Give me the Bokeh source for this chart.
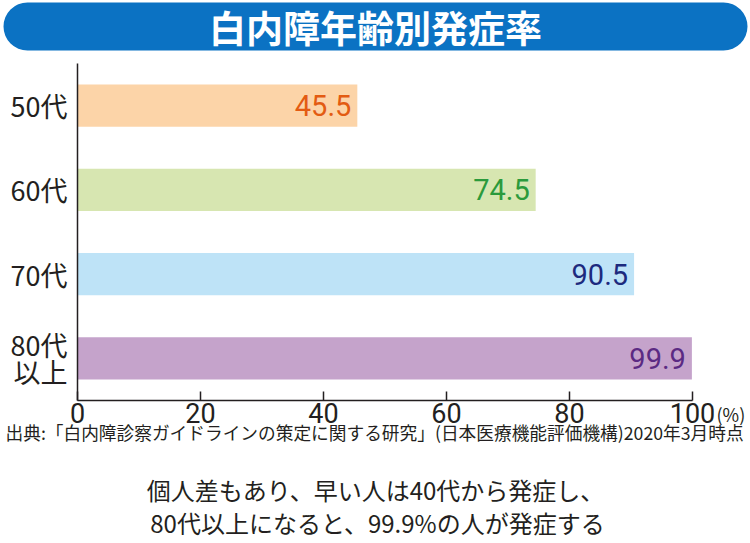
from bokeh.plotting import figure
from bokeh.models import ColumnDataSource, Range1d, FixedTicker, LinearAxis, Title
from bokeh.layouts import column
from bokeh.embed import file_html
from bokeh.resources import INLINE
from bokeh.core.properties import value

# ---- data ----
title_text = "白内障年齢別発症率"
categories = ["50代", "60代", "70代", "80代\n以上"]
rates = [45.5, 74.5, 90.5, 99.9]
bar_colors = ["#fcd4a8", "#d7e6b1", "#bee3f7", "#c5a3cb"]
value_colors = ["#e35b12", "#2b9a3c", "#1c2a7e", "#5b2a83"]
x_ticks = [0, 20, 40, 60, 80, 100]
unit_text = "(%)"
source_text = "出典:「白内障診察ガイドラインの策定に関する研究」(日本医療機能評価機構)2020年3月時点"
note_lines = ["個人差もあり、早い人は40代から発症し、", "80代以上になると、99.9%の人が発症する"]

JP = "Noto Sans CJK JP"
NUM = "Roboto"
INK = "#231f20"
W = 750

# category slots: first category at the top
n = len(categories)
ypos = [n - 0.5 - i for i in range(n)]

# ---- title bar ----
TH = 52
tp = figure(width=W, height=TH, x_range=Range1d(0, W), y_range=Range1d(TH, 0),
            x_axis_type=None, y_axis_type=None, toolbar_location=None,
            output_backend="svg", min_border=0, frame_align=False)
tp.outline_line_color = None
tp.quad(left=[3], right=[W - 3], top=[2], bottom=[50], fill_color="#0b72c3",
        line_color=None, border_radius=24)
tp.text(x=[W / 2], y=[26], text=[title_text], text_font=value(JP),
        text_font_style="bold", text_font_size="37px", text_color="white",
        text_align="center", text_baseline="middle")

# ---- main chart ----
src = ColumnDataSource(dict(y=ypos, rate=rates,
                            label=[f"{r:.1f}" for r in rates],
                            bar=bar_colors, vc=value_colors))

p = figure(width=W, height=413, y_range=Range1d(0, n), x_range=Range1d(0, 100),
           toolbar_location=None, output_backend="svg",
           min_border_left=77, min_border_right=58, min_border_top=11,
           min_border_bottom=65, frame_align=False)
p.outline_line_color = None
p.grid.grid_line_color = None

p.hbar(y="y", left=0, right="rate", height=0.5, fill_color="bar",
       line_color=None, source=src)
p.text(x="rate", y="y", text="label", x_offset=-6, text_align="right",
       text_baseline="middle", text_color="vc", text_font=value(NUM),
       text_font_size="29px", source=src)

xa = p.xaxis[0]
xa.ticker = FixedTicker(ticks=x_ticks)
xa.minor_tick_line_color = None
xa.major_tick_in = 9
xa.major_tick_out = 0
xa.major_tick_line_color = INK
xa.major_tick_line_width = 1.5
xa.axis_line_color = INK
xa.axis_line_width = 1.5
xa.major_label_text_font = NUM
xa.major_label_text_font_size = "27px"
xa.major_label_text_color = INK
xa.major_label_standoff = 2

ya = p.yaxis[0]
ya.ticker = FixedTicker(ticks=ypos)
ya.major_label_overrides = {y: c for y, c in zip(ypos, categories)}
ya.major_tick_line_color = None
ya.minor_tick_line_color = None
ya.axis_line_color = INK
ya.axis_line_width = 1.5
ya.major_label_text_font = JP
ya.major_label_text_font_size = "27px"
ya.major_label_text_line_height = 0.69
ya.major_label_text_color = INK
ya.major_label_standoff = 4

# unit "(%)" beside the 100 tick, via a label-only axis on the right
ua = LinearAxis(ticker=FixedTicker(ticks=[0]),
                major_label_overrides={0: "\n" + unit_text}, axis_line_color=None,
                major_tick_line_color=None, minor_tick_line_color=None,
                major_label_standoff=18, major_label_text_font=JP,
                major_label_text_font_size="18px", major_label_text_color=INK,
                major_label_text_line_height=1.0)
p.add_layout(ua, "right")

# source line below the tick labels
p.add_layout(Title(text=source_text, align="left", offset=-72, standoff=-16,
                   vertical_align="middle", text_font=JP, text_font_size="17.7px",
                   text_font_style="normal", text_color=INK), "below")

# ---- notes ----
FH = 78
fp = figure(width=W, height=FH, x_range=Range1d(0, W), y_range=Range1d(FH, 0),
            x_axis_type=None, y_axis_type=None, toolbar_location=None,
            output_backend="svg", min_border=0, frame_align=False)
fp.outline_line_color = None
fp.text(x=[W / 2, W / 2 + 2], y=[24, 57], text=note_lines, text_font=value(JP),
        text_font_size="24px", text_color=INK, text_align="center",
        text_baseline="middle")

layout = column(tp, p, fp)
open("out.html", "w").write(file_html(layout, INLINE))
